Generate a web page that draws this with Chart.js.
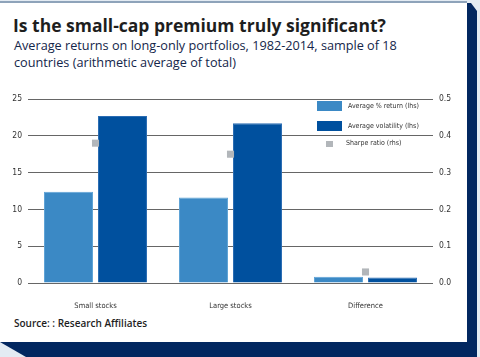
<!DOCTYPE html>
<html><head><meta charset="utf-8">
<script src="https://cdn.jsdelivr.net/npm/chart.js@4/dist/chart.umd.min.js"></script>
<style>
html,body{margin:0;padding:0;}
body{width:480px;height:357px;background:#e3ebf3;position:relative;overflow:hidden;font-family:'Open Sans',Roboto,sans-serif;}
#panel{position:absolute;left:0;top:1px;width:467px;height:341px;background:#fff;border-top:2px solid #8ea3ba;box-sizing:border-box;}
#rstrip{position:absolute;left:467px;top:3px;width:10px;height:354px;background:#022760;clip-path:polygon(0 0,40% 0,100% 8px,100% 100%,0 100%);}
#bstrip{position:absolute;left:0;top:342px;width:477px;height:15px;background:#022760;clip-path:polygon(0 0,100% 0,100% 100%,26px 100%);}
#title{position:absolute;left:13px;top:13px;font-size:17.5px;font-weight:bold;color:#1e1e1e;white-space:nowrap;}
#sub{position:absolute;left:14px;top:37px;font-size:12.7px;line-height:17px;color:#14264a;white-space:nowrap;}
#src{position:absolute;left:14px;top:316px;font-size:10px;font-weight:600;color:#1e1e1e;white-space:nowrap;}
canvas{position:absolute;left:0;top:0;}
#legend{position:absolute;left:317px;top:101px;font-family:'Liberation Sans Narrow','DejaVu Sans Condensed',sans-serif;font-size:7px;color:#333;z-index:2;}
.li{position:absolute;white-space:nowrap;}
.sw{position:absolute;}
</style></head>
<body>
<div id="panel"></div>
<div id="rstrip"></div>
<div id="bstrip"></div>
<div id="title">Is the small-cap premium truly significant?</div>
<div id="sub">Average returns on long-only portfolios, 1982-2014, sample of 18<br>countries (arithmetic average of total)</div>
<div id="src">Source: : Research Affiliates</div>
<canvas id="c" width="467" height="340"></canvas>
<div id="legend"></div>
<script>
const categories = ["Small stocks", "Large stocks", "Difference"];
const avgReturn = [12.4, 11.6, 0.85];
const avgVolatility = [22.7, 21.7, 0.75];
const sharpeRatio = [0.38, 0.35, 0.03];
const seriesNames = ["Average % return (lhs)", "Average volatility (lhs)", "Sharpe ratio (rhs)"];
const colors = ["#3b89c5", "#00509e", "#b2b6ba"];

const tickFont = {family: "'Liberation Sans Narrow','DejaVu Sans Condensed',sans-serif", size: 7.5};

// HTML legend
const leg = document.getElementById('legend');
const legRows = [
  {sw: {l:0,t:0,w:25,h:10}, tx: {l:31,t:1}},
  {sw: {l:0,t:20,w:25,h:10}, tx: {l:31,t:21}},
  {sw: {l:9,t:40,w:7,h:6}, tx: {l:29,t:38}}
];
legRows.forEach((r,i)=>{
  const s=document.createElement('div'); s.className='sw';
  Object.assign(s.style,{left:r.sw.l+'px',top:r.sw.t+'px',width:r.sw.w+'px',height:r.sw.h+'px',background:colors[i]});
  const t=document.createElement('div'); t.className='li'; t.textContent=seriesNames[i];
  Object.assign(t.style,{left:r.tx.l+'px',top:r.tx.t+'px'});
  leg.appendChild(s); leg.appendChild(t);
});

new Chart(document.getElementById('c'), {
  data: {
    labels: categories,
    datasets: [
      {type:'line', label: seriesNames[2], data: sharpeRatio, yAxisID:'y2', showLine:false,
       pointStyle:'rect', pointRadius:5, pointHoverRadius:5, pointBorderWidth:0,
       pointBackgroundColor: colors[2], order:0},
      {type:'bar', label: seriesNames[0], data: avgReturn, yAxisID:'y', backgroundColor: colors[0],
       borderColor:'#5ea3d6', borderWidth:1, categoryPercentage:0.8, barPercentage:0.907, order:1},
      {type:'bar', label: seriesNames[1], data: avgVolatility, yAxisID:'y', backgroundColor: colors[1],
       borderColor:'#2a6cb3', borderWidth:1, categoryPercentage:0.8, barPercentage:0.907, order:1}
    ]
  },
  options: {
    responsive:false, animation:false, devicePixelRatio:1,
    layout:{padding:{top:99,bottom:27,left:0,right:0}},
    plugins:{legend:{display:false}, tooltip:{enabled:false}},
    scales:{
      x:{grid:{display:false}, border:{display:false},
         ticks:{font:tickFont, color:'#333', padding:11},
         afterFit:s=>{s.height=30;}},
      y:{position:'left', min:0, max:25, ticks:{stepSize:5, font:{...tickFont,size:8.5}, color:'#333', padding:6},
         grid:{color:'#666', lineWidth:1, drawTicks:false}, border:{display:false},
         afterFit:s=>{s.width=28;}},
      y2:{position:'right', min:0, max:0.5, ticks:{stepSize:0.1, font:{...tickFont,size:8.5}, color:'#333', padding:6,
         callback:v=>Number(v).toFixed(1)},
         grid:{display:false, drawTicks:false}, border:{display:false},
         afterFit:s=>{s.width=34;}}
    }
  }
});
</script>
</body></html>
